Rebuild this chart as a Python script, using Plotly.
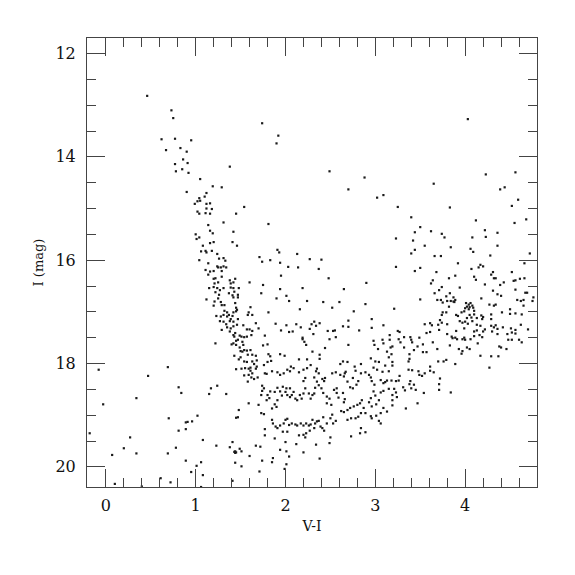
import plotly.graph_objects as go

# Colour-magnitude diagram: (V-I, I) pairs
bright_stars = [
    (0.46,12.82),(0.73,13.10),(0.75,13.25),(0.62,13.66),(0.77,13.65),(0.95,13.68),(0.67,13.87),(0.83,13.83),
    (0.90,13.90),(0.86,14.05),(0.91,14.12),(0.77,14.14),(0.85,14.24),(0.78,14.28),(0.92,14.31),(1.38,14.19),
    (1.05,14.43),(1.19,14.57),(1.29,14.59),(1.74,13.35),(1.92,13.59),(1.90,13.74),(2.49,14.28),(2.88,14.40),
    (4.03,13.27),(4.23,14.34),(4.56,14.30),(3.65,14.52),(4.44,14.59),
]

blue_branch = [
    (0.90,14.68),(1.12,14.70),(1.10,14.77),(1.04,14.80),(1.05,14.85),(1.02,14.86),(0.99,14.91),(1.12,14.91),
    (1.16,14.90),(1.12,15.00),(1.18,15.01),(1.02,15.06),(1.04,15.10),(1.11,15.09),(1.16,15.10),(1.45,15.10),
    (1.31,15.27),(1.14,15.32),(1.16,15.43),(1.19,15.48),(1.42,15.45),(1.00,15.50),(1.04,15.56),(1.01,15.59),
    (1.20,15.65),(1.16,15.67),(1.41,15.65),(1.08,15.72),(1.06,15.83),(1.11,15.82),(1.12,15.85),(1.18,15.82),
    (1.24,15.88),(1.26,15.97),(1.31,15.96),(1.33,16.01),(1.04,16.00),(1.14,16.06),(1.24,16.12),(1.25,16.14),
    (1.28,16.14),(1.31,16.12),(1.34,16.14),(1.11,16.19),(1.16,16.22),(1.20,16.21),(1.29,16.21),(1.14,16.28),
    (1.29,16.32),(1.20,16.36),(1.22,16.35),(1.38,16.39),(1.44,16.36),(1.21,16.45),(1.25,16.43),(1.39,16.45),
    (1.42,16.43),(1.20,16.52),(1.24,16.54),(1.27,16.58),(1.31,16.54),(1.39,16.53),(1.42,16.54),(1.43,16.61),
    (1.15,16.54),(1.22,16.62),(1.26,16.67),(1.37,16.64),(1.41,16.68),(1.12,16.76),(1.25,16.74),(1.28,16.81),
    (1.42,16.72),(1.44,16.83),(1.21,16.80),(1.20,16.88),(1.29,16.87),(1.32,16.87),(1.45,16.92),(1.32,16.98),
    (1.35,17.01),(1.37,17.06),(1.42,17.01),(1.45,16.99),(1.23,17.08),(1.28,17.09),(1.31,17.06),(1.35,17.09),
    (1.39,17.14),(1.41,17.08),(1.27,17.18),(1.31,17.19),(1.34,17.24),(1.38,17.18),(1.42,17.19),(1.29,17.35),
    (1.35,17.30),(1.39,17.32),(1.42,17.28),(1.38,17.38),(1.42,17.45),(1.44,17.41),(1.43,17.48),
]

middle_upper = [
    (2.70,14.63),(3.02,14.79),(3.09,14.74),(1.54,14.97),(1.81,15.30),(1.46,15.72),(1.91,15.80),(1.93,15.85),
    (1.71,15.94),(1.74,16.03),(1.83,16.00),(2.13,15.88),(1.94,16.05),(2.03,16.13),(2.14,16.14),(2.27,15.98),
    (2.40,15.99),(2.37,16.17),(1.95,16.30),(2.48,16.35),(1.60,16.43),(1.75,16.48),(1.94,16.56),(2.19,16.54),
    (2.65,16.56),(2.90,16.44),(1.48,16.54),(1.73,16.64),(1.47,16.67),(1.47,16.72),(2.01,16.69),(2.04,16.79),
    (1.90,16.74),(2.24,16.79),(2.42,16.81),(2.60,16.81),(2.89,16.85),(2.76,16.99),(2.52,16.92),(2.16,16.95),
    (1.61,16.91),(1.59,17.01),(1.58,17.06),(1.63,17.06),(1.81,17.01),(1.46,16.96),(1.47,17.14),(1.46,17.25),
    (1.53,17.26),(1.67,17.22),(1.70,17.32),(1.57,17.34),(1.60,17.34),(1.63,17.37),(1.49,17.46),(1.51,17.48),
    (1.54,17.49),(1.57,17.48),(1.62,17.45),(1.77,17.46),(1.89,17.23),(1.95,17.36),(2.01,17.26),(2.04,17.39),
    (2.08,17.38),(2.12,17.24),(2.17,17.30),(2.19,17.50),(2.27,17.33),(2.29,17.24),(2.32,17.19),(2.34,17.27),
    (2.38,17.22),(2.31,17.43),(2.47,17.37),(2.53,17.37),(2.55,17.36),(2.56,17.49),(2.64,17.28),(2.70,17.29),
    (2.70,17.17),(2.82,17.36),(2.96,17.31),(2.96,17.14),(3.09,17.26),
]

red_branch = [
    (4.39,14.63),(4.59,14.83),(4.52,14.95),(3.25,14.97),(3.83,14.98),(3.40,15.17),(4.68,15.21),(4.55,15.28),
    (4.12,15.23),(3.50,15.36),(3.44,15.46),(3.62,15.44),(3.74,15.49),(3.77,15.56),(4.22,15.42),(4.23,15.55),
    (4.36,15.47),(4.08,15.56),(3.23,15.58),(3.42,15.62),(3.55,15.72),(3.84,15.75),(3.44,15.80),(3.40,15.87),
    (4.06,15.78),(4.09,15.84),(4.36,15.72),(4.28,15.91),(3.66,15.92),(3.73,15.92),(4.72,15.87),(4.66,16.06),
    (3.92,16.06),(3.23,16.13),(3.50,16.15),(3.44,16.21),(3.68,16.23),(4.07,16.17),(4.15,16.14),(4.17,16.09),
    (4.20,16.12),(3.89,16.30),(3.82,16.35),(4.31,16.23),(4.32,16.35),(4.34,16.35),(4.29,16.28),(4.10,16.32),
    (4.12,16.38),(4.52,16.23),(4.54,16.40),(4.56,16.39),(4.61,16.36),(4.66,16.35),(3.64,16.39),(3.62,16.45),
    (4.22,16.47),(4.39,16.48),(4.43,16.43),(3.94,16.53),(3.74,16.52),(3.71,16.58),(3.66,16.64),(4.56,16.57),
    (4.31,16.59),(4.36,16.66),(4.40,16.69),(4.67,16.63),(4.69,16.63),(4.76,16.72),(3.83,16.64),(3.79,16.70),
    (3.87,16.72),(3.89,16.77),(3.50,16.76),(3.69,16.77),(3.73,16.77),(3.75,16.82),(3.80,16.79),(3.84,16.79),
    (3.87,16.80),(3.88,16.81),(4.18,16.74),(4.58,16.77),(4.62,16.79),(4.65,16.77),(4.75,16.79),(4.01,16.83),
    (4.04,16.86),(4.02,16.90),(4.05,16.91),(4.06,16.83),(4.08,16.88),(4.00,16.93),(4.04,16.95),(4.09,16.92),
    (4.27,16.86),(4.32,16.88),(4.34,16.86),(4.65,16.88),(3.21,16.94),(3.82,16.90),(3.79,17.01),(3.75,17.01),
    (3.96,17.01),(3.99,16.99),(3.90,17.06),(3.92,17.08),(4.10,16.98),(4.10,17.05),(4.05,17.06),(4.07,17.11),
    (4.02,17.12),(4.13,17.12),(4.18,17.07),(4.20,17.10),(4.19,17.14),(4.29,17.05),(4.29,17.14),(4.41,17.01),
    (4.50,16.95),(4.50,17.04),(4.56,17.03),(4.63,17.05),(3.74,17.06),(3.72,17.16),(3.94,17.18),(3.97,17.21),
    (4.00,17.19),(4.03,17.23),(4.08,17.18),(4.13,17.25),(4.17,17.27),(4.22,17.34),(3.55,17.24),(3.61,17.22),
    (3.63,17.26),(3.70,17.25),(3.74,17.21),(3.80,17.24),(3.90,17.37),(3.99,17.32),(4.10,17.38),(4.13,17.36),
    (4.20,17.38),(4.29,17.27),(4.32,17.30),(4.34,17.26),(4.36,17.33),(4.30,17.38),(4.36,17.43),(4.42,17.30),
    (4.51,17.32),(4.56,17.35),(4.62,17.25),(4.70,17.34),(4.47,17.43),(4.52,17.40),(4.56,17.42),(3.71,17.35),
    (3.57,17.41),(3.61,17.39),(3.80,17.43),(3.16,17.45),(3.25,17.37),(3.27,17.39),(3.32,17.49),(3.39,17.49),
    (3.49,17.50),(4.16,17.45),(4.19,17.49),(3.85,17.48),(3.89,17.50),(3.99,17.50),(4.10,17.47),
]

faint_blue = [
    (1.22,17.61),(1.40,17.63),(1.42,17.61),(1.45,17.56),(1.45,17.64),(1.43,17.85),(1.45,18.11),(0.69,18.07),
    (-0.08,18.12),(0.47,18.24),(0.81,18.46),(0.84,18.57),(0.34,18.67),(1.17,18.48),(1.24,18.43),(1.15,18.59),
    (1.34,18.59),(-0.03,18.79),(0.70,19.06),(0.89,19.14),(0.91,19.13),(0.96,19.12),(1.02,19.01),(1.45,19.05),
    (0.81,19.30),(0.89,19.27),(-0.18,19.35),(0.27,19.43),(1.08,19.48),(1.23,19.59),(1.38,19.62),(1.41,19.52),
    (1.43,19.71),(1.44,19.73),(1.45,19.72),(1.44,19.70),(0.20,19.64),(0.78,19.63),(0.69,19.74),(0.34,19.74),
    (0.07,19.77),(1.44,19.92),(0.89,19.88),(1.01,19.98),(1.06,19.91),(0.95,20.10),(1.08,20.16),(1.41,20.27),
    (0.61,20.22),(0.72,20.30),(0.10,20.33),(0.40,20.38),(1.06,20.39),
]

main_field = [
    (1.47,17.54),(1.52,17.58),(1.53,17.64),(1.49,17.69),(1.54,17.74),(1.52,17.77),(1.50,17.76),
    (2.19,17.53),(2.21,17.58),(2.23,17.64),(2.44,17.70),(2.49,17.53),(2.70,17.64),(2.98,17.56),(3.08,17.54),
    (3.09,17.61),(2.99,17.64),(3.03,17.72),(1.75,17.65),(1.80,17.63),(1.57,17.75),(1.61,17.74),(1.58,17.83),
    (1.63,17.83),(1.67,17.85),(1.50,17.88),(1.48,17.92),(1.81,17.82),(1.83,17.86),(1.94,17.82),(1.99,17.85),
    (2.30,17.77),(2.38,17.83),(2.38,17.91),(2.15,17.92),(2.24,17.92),(1.84,17.95),(1.80,17.97),(1.76,18.03),
    (1.68,17.94),(1.63,17.96),(1.65,18.01),(1.54,17.96),(1.57,17.97),(1.68,18.06),(1.67,18.10),(1.61,18.08),
    (1.59,18.10),(1.55,18.09),(1.51,18.10),(1.61,18.14),(1.63,18.19),(1.59,18.22),(1.62,18.27),(1.65,18.30),
    (1.69,18.27),(1.54,18.23),(1.58,18.35),(1.77,18.19),(1.79,18.20),(1.85,18.15),(1.91,18.17),(1.94,18.22),
    (1.98,18.19),(2.02,18.12),(2.06,18.06),(2.09,18.09),(2.05,18.15),(2.15,18.17),(2.20,18.12),(2.24,18.09),
    (2.28,18.03),(2.34,18.15),(2.37,18.19),(2.35,18.10),(2.22,18.28),(2.20,18.34),(2.32,18.27),(2.41,18.30),
    (2.44,18.28),(2.43,18.34),(2.52,18.19),(2.56,18.17),(2.61,18.22),(2.66,18.19),(2.67,18.16),(2.65,18.25),
    (2.61,18.01),(2.64,17.96),(2.69,17.97),(2.77,18.06),(2.78,18.14),(2.84,18.01),(2.84,18.19),(2.89,18.17),
    (2.93,18.22),(2.95,18.27),(2.95,17.90),(3.00,17.96),(3.04,17.97),(2.98,18.08),(3.02,18.12),(3.08,18.16),
    (3.11,18.04),(2.75,18.28),(2.81,18.34),(2.69,18.35),(2.72,18.46),(2.75,18.48),(2.79,18.41),(2.96,18.34),
    (3.06,18.32),(3.09,18.38),(3.11,18.36),(2.99,18.41),(2.98,18.54),(2.95,18.67),(3.00,18.62),(3.06,18.56),
    (3.09,18.53),(1.74,18.43),(1.76,18.48),(1.74,18.53),(1.73,18.61),(1.80,18.61),(1.79,18.71),(1.82,18.67),
    (1.83,18.54),(1.88,18.55),(1.91,18.47),(1.94,18.54),(1.96,18.62),(1.91,18.71),(1.90,18.84),(1.85,18.87),
    (1.88,18.79),(1.97,18.45),(2.01,18.48),(2.00,18.55),(2.02,18.61),(2.05,18.65),(2.07,18.61),(2.09,18.55),
    (2.05,18.48),(2.11,18.68),(2.13,18.71),(2.18,18.68),(2.16,18.61),(2.20,18.58),(2.22,18.48),(2.26,18.58),
    (2.28,18.68),(2.30,18.61),(2.32,18.58),(2.33,18.47),(2.37,18.42),(2.35,18.35),(2.40,18.48),(2.42,18.57),
    (2.46,18.64),(2.49,18.68),(2.46,18.77),(2.51,18.80),(2.54,18.51),(2.57,18.48),(2.57,18.57),(2.59,18.66),
    (2.64,18.57),(2.66,18.69),(2.65,18.75),(2.69,18.90),(2.72,18.86),(2.76,18.83),(2.80,18.80),(2.83,18.77),
    (2.85,18.71),(2.87,18.86),(2.84,18.96),(2.89,18.96),(2.93,18.75),(2.96,18.83),(3.01,18.79),(3.04,18.71),
    (3.09,18.86),(3.06,18.96),(3.04,19.11),(2.95,19.02),(1.48,18.90),(1.47,19.04),(1.59,18.77),(1.70,18.80),
    (1.73,18.96),(1.76,18.98),(1.85,19.09),(1.86,19.16),(1.89,19.22),(1.91,19.25),(1.77,19.27),(1.77,19.39),
    (1.88,19.45),(1.94,19.20),(1.98,19.16),(2.00,19.09),(2.02,19.07),(2.04,19.19),(2.07,19.16),(2.11,19.18),
    (2.13,19.20),(2.17,19.16),(2.20,19.20),(2.23,19.16),(2.26,19.20),(2.28,19.18),(1.97,19.32),(2.02,19.32),
    (2.15,19.39),(2.20,19.38),(2.22,19.43),(2.23,19.35),(2.27,19.30),(2.32,19.25),(2.35,19.12),(2.37,19.11),
    (2.39,19.22),(2.33,19.16),(2.30,19.09),(2.42,19.04),(2.46,19.16),(2.50,19.06),(2.52,18.99),(2.41,19.25),
    (2.43,19.30),(2.50,19.43),(2.49,19.54),(2.53,19.16),(2.56,19.11),(2.62,18.92),(2.65,18.94),(2.69,19.09),
    (2.73,19.06),(2.78,19.06),(2.81,19.03),(2.84,19.25),(2.89,19.33),(2.73,19.41),(2.83,19.35),(3.06,19.16),
    (2.96,19.06),(3.01,19.01),(1.67,19.59),(1.72,19.61),(1.49,19.65),(1.51,19.70),(1.60,19.79),(1.94,19.67),
    (2.01,19.70),(2.04,19.80),(1.86,19.83),(1.85,19.91),(2.00,19.52),(2.12,19.56),(2.20,19.72),(2.34,19.57),
    (1.74,19.88),(1.51,19.99),(2.01,19.95),(1.99,20.04),(1.71,20.09),(2.38,19.84),
]

red_lower = [
    (3.16,17.54),(3.26,17.53),(3.40,17.54),(3.41,17.59),(3.28,17.59),(3.19,17.67),(3.17,17.69),(3.32,17.69),
    (3.47,17.67),(3.53,17.63),(3.64,17.59),(3.86,17.51),(3.91,17.53),(3.97,17.53),(4.00,17.54),(4.06,17.53),
    (4.14,17.61),(3.83,17.65),(4.48,17.54),(4.52,17.54),(4.60,17.54),(4.63,17.59),(3.93,17.72),(3.97,17.76),
    (4.02,17.69),(4.05,17.72),(3.96,17.81),(3.69,17.72),(3.53,17.78),(3.57,17.78),(3.43,17.74),(3.38,17.82),
    (3.13,17.77),(3.18,17.82),(3.15,17.88),(3.38,17.91),(3.37,17.96),(3.19,17.97),(3.19,18.04),(4.17,17.85),
    (4.29,17.86),(4.37,17.86),(4.38,17.67),(4.40,17.69),(4.46,17.72),(4.27,18.08),(3.70,17.96),(3.76,17.96),
    (3.79,17.93),(3.89,18.01),(3.61,18.06),(3.61,18.14),(3.65,18.17),(3.37,18.12),(3.41,18.13),(3.48,18.15),
    (3.49,18.22),(3.52,18.24),(3.55,18.19),(3.15,18.15),(3.27,18.24),(3.13,18.33),(3.18,18.33),(3.23,18.34),
    (3.26,18.33),(3.39,18.34),(3.38,18.40),(3.43,18.41),(3.72,18.29),(3.71,18.40),(3.71,18.51),(3.15,18.49),
    (3.21,18.49),(3.23,18.56),(3.19,18.61),(3.24,18.65),(3.19,18.71),(3.31,18.46),(3.33,18.52),(3.40,18.48),
    (3.45,18.51),(3.54,18.57),(3.47,18.77),(3.34,18.87),(3.19,18.81),(3.13,18.93),(3.84,18.56),
]

x_range = [-0.21, 4.80]
y_range = [20.39, 11.70]
x_title = "V-I"
y_title = "I (mag)"

stars = bright_stars + blue_branch + middle_upper + red_branch + faint_blue + main_field + red_lower
vi = [s[0] for s in stars]
imag = [s[1] for s in stars]

fig = go.Figure(go.Scatter(
    x=vi, y=imag, mode="markers",
    marker=dict(symbol="square", size=2.2, color="#1a1a1a", line=dict(width=0)),
    hoverinfo="skip",
))

font_family = "DejaVu Serif"
axis_common = dict(
    showgrid=False, zeroline=False, showline=True, linecolor="#444444", linewidth=1,
    mirror="ticks", ticks="inside", tickcolor="#444444", tickwidth=1,
    tickfont=dict(family=font_family, size=16, color="#111111"),
)

fig.update_xaxes(
    range=x_range, dtick=1, tick0=0, ticklen=18,
    minor=dict(ticks="inside", dtick=0.2, tick0=0, ticklen=9, tickcolor="#444444", tickwidth=1),
    title=dict(text=x_title, font=dict(family=font_family, size=14, color="#111111"), standoff=6),
    ticklabelstandoff=4,
    **axis_common,
)
fig.update_yaxes(
    range=y_range, dtick=2, tick0=0, ticklen=18,
    minor=dict(ticks="inside", dtick=0.5, tick0=0, ticklen=9, tickcolor="#444444", tickwidth=1),
    title=dict(text=y_title, font=dict(family=font_family, size=13, color="#111111"), standoff=8),
    ticklabelstandoff=7,
    **axis_common,
)

fig.update_layout(
    width=575, height=575,
    margin=dict(l=79, r=46, t=30, b=96, autoexpand=False),
    paper_bgcolor="white", plot_bgcolor="white",
    showlegend=False,
)

fig.write_html("out.html")
